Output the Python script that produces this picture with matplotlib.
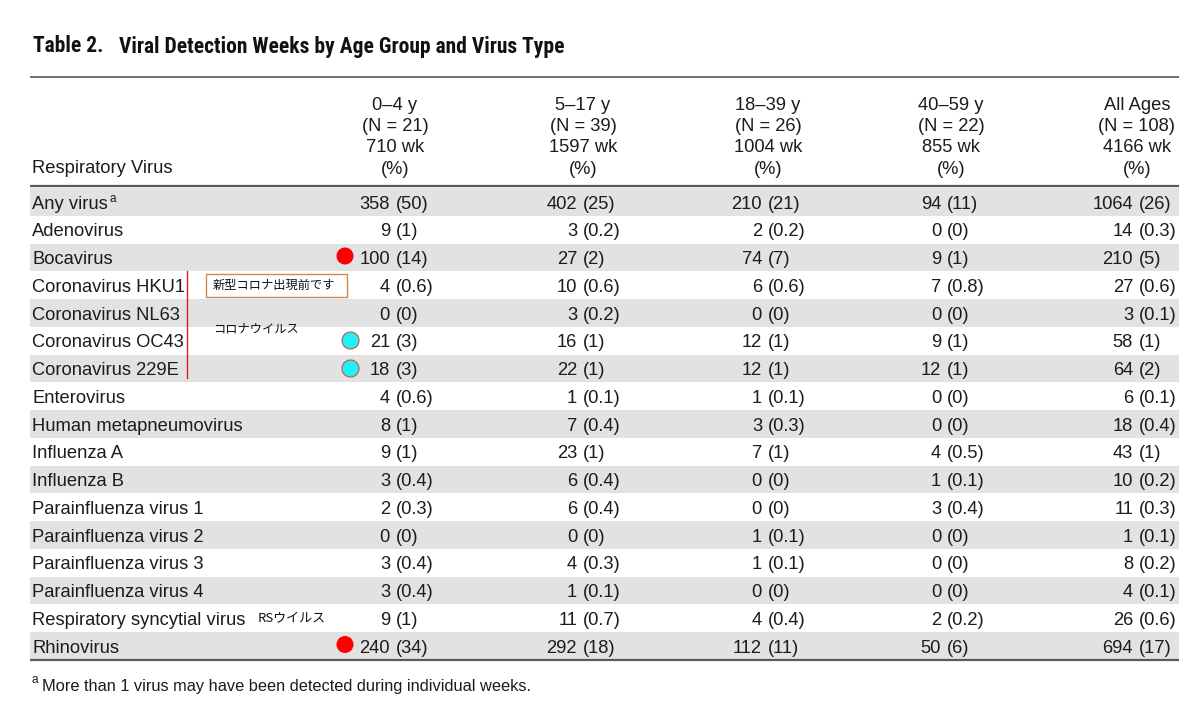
import matplotlib
matplotlib.use("Agg")
import matplotlib.pyplot as plt
from matplotlib import font_manager
from matplotlib.patches import Rectangle

# ---- table data -------------------------------------------------------
viruses = [
    "Any virus", "Adenovirus", "Bocavirus", "Coronavirus HKU1",
    "Coronavirus NL63", "Coronavirus OC43", "Coronavirus 229E",
    "Enterovirus", "Human metapneumovirus", "Influenza A", "Influenza B",
    "Parainfluenza virus 1", "Parainfluenza virus 2", "Parainfluenza virus 3",
    "Parainfluenza virus 4", "Respiratory syncytial virus", "Rhinovirus",
]

age_groups = ["0\u20134 y", "5\u201317 y", "18\u201339 y", "40\u201359 y", "All Ages"]
group_n = [21, 39, 26, 22, 108]
group_weeks = [710, 1597, 1004, 855, 4166]

counts_0_4 = [358, 9, 100, 4, 0, 21, 18, 4, 8, 9, 3, 2, 0, 3, 3, 9, 240]
pct_0_4 = ["50", "1", "14", "0.6", "0", "3", "3", "0.6", "1", "1", "0.4",
           "0.3", "0", "0.4", "0.4", "1", "34"]
counts_5_17 = [402, 3, 27, 10, 3, 16, 22, 1, 7, 23, 6, 6, 0, 4, 1, 11, 292]
pct_5_17 = ["25", "0.2", "2", "0.6", "0.2", "1", "1", "0.1", "0.4", "1", "0.4",
            "0.4", "0", "0.3", "0.1", "0.7", "18"]
counts_18_39 = [210, 2, 74, 6, 0, 12, 12, 1, 3, 7, 0, 0, 1, 1, 0, 4, 112]
pct_18_39 = ["21", "0.2", "7", "0.6", "0", "1", "1", "0.1", "0.3", "1", "0",
             "0", "0.1", "0.1", "0", "0.4", "11"]
counts_40_59 = [94, 0, 9, 7, 0, 9, 12, 0, 0, 4, 1, 3, 0, 0, 0, 2, 50]
pct_40_59 = ["11", "0", "1", "0.8", "0", "1", "1", "0", "0", "0.5", "0.1",
             "0.4", "0", "0", "0", "0.2", "6"]
counts_all = [1064, 14, 210, 27, 3, 58, 64, 6, 18, 43, 10, 11, 1, 8, 4, 26, 694]
pct_all = ["26", "0.3", "5", "0.6", "0.1", "1", "2", "0.1", "0.4", "1", "0.2",
           "0.3", "0.1", "0.2", "0.1", "0.6", "17"]

columns = [
    (counts_0_4, pct_0_4),
    (counts_5_17, pct_5_17),
    (counts_18_39, pct_18_39),
    (counts_40_59, pct_40_59),
    (counts_all, pct_all),
]

TITLE_NUM = "Table 2."
TITLE = "Viral Detection Weeks by Age Group and Virus Type"
FOOTNOTE = "More than 1 virus may have been detected during individual weeks."

# hand-written notes on the picture
red_dot_rows = ["Bocavirus", "Rhinovirus"]
cyan_dot_rows = ["Coronavirus OC43", "Coronavirus 229E"]
box_note = "新型コロナ出現前です"
corona_note = "コロナウイルス"
rsv_note = "RSウイルス"

# ---- layout (pixel space) ---------------------------------------------
W, H = 1200, 706
LEFT, RIGHT = 30, 1179
ROW0_Y = 202
ROW_STEP = 27.75
COL_X = [396, 583, 768, 947, 1139]
HEADER_X = [395, 583, 768, 951, 1137]
HEADER_Y = [109.5, 131, 152.5, 174]

TEXT_COLOR = "#1c1c1c"
BAND_COLOR = "#e2e2e2"
RULE_COLOR = "#5a5a5a"

fonts = font_manager.fontManager.ttflist
names = {f.name for f in fonts}
BODY_FONT = "Liberation Sans" if "Liberation Sans" in names else "DejaVu Sans"

# a narrow bold face for the title if one is around
TITLE_FONT, TITLE_STRETCH, TITLE_SIZE = BODY_FONT, "normal", 13.2
for cand in ["Liberation Sans Narrow", "Roboto Condensed", "Open Sans Condensed"]:
    if cand in names:
        TITLE_FONT, TITLE_SIZE = cand, 15.5
        break
else:
    cond = [f for f in fonts if f.name == "DejaVu Sans" and f.stretch == "condensed"
            and f.weight in ("bold", 700)]
    if cond:
        TITLE_FONT, TITLE_STRETCH, TITLE_SIZE = "DejaVu Sans", "condensed", 13.5

CJK_FONT = ["Noto Sans CJK JP", "DejaVu Sans"]
BODY_SIZE = 13.2

fig = plt.figure(figsize=(W / 100, H / 100), dpi=100)
ax = fig.add_axes([0, 0, 1, 1])
ax.set_xlim(0, W)
ax.set_ylim(H, 0)
ax.axis("off")


def row_y(i):
    return ROW0_Y + i * ROW_STEP


# title
title_kw = dict(fontsize=TITLE_SIZE, fontweight="bold", family=TITLE_FONT,
                fontstretch=TITLE_STRETCH, color="#111111", va="baseline")
ax.text(33, 52.5, TITLE_NUM, **title_kw)
ax.text(119, 52.5, TITLE, **title_kw)

# rules
ax.plot([LEFT, RIGHT], [77, 77], color=RULE_COLOR, lw=1.2, solid_capstyle="butt")

# shaded bands
for i in range(0, len(viruses), 2):
    ax.add_patch(Rectangle((LEFT, row_y(i) - ROW_STEP / 2), RIGHT - LEFT, ROW_STEP,
                           facecolor=BAND_COLOR, edgecolor="none", zorder=0))

ax.plot([LEFT, RIGHT], [186, 186], color=RULE_COLOR, lw=1.6, solid_capstyle="butt")
ax.plot([LEFT, RIGHT], [row_y(len(viruses) - 1) + ROW_STEP / 2] * 2,
        color=RULE_COLOR, lw=1.6, solid_capstyle="butt")

# header
body = dict(fontsize=BODY_SIZE, family=BODY_FONT, color=TEXT_COLOR, va="baseline")
for x, age, n, wk in zip(HEADER_X, age_groups, group_n, group_weeks):
    lines = [age, f"(N = {n})", f"{wk} wk", "(%)"]
    for y, line in zip(HEADER_Y, lines):
        ax.text(x, y, line, ha="center", **body)
ax.text(32, 173, "Respiratory Virus", ha="left", **body)

# body rows
for i, name in enumerate(viruses):
    base = row_y(i) + 6.6
    ax.text(32, base, name, ha="left", **body)
    if i == 0:
        ax.text(109, base - 7, "a", fontsize=8.5, family=BODY_FONT,
                color=TEXT_COLOR, va="baseline")
    for x, (counts, pcts) in zip(COL_X, columns):
        ax.text(x - 6, base, str(counts[i]), ha="right", **body)
        ax.text(x, base, f"({pcts[i]})", ha="left", **body)

# footnote
ax.text(32, 683, "a", fontsize=8.5, family=BODY_FONT, color=TEXT_COLOR, va="baseline")
ax.text(42, 691, FOOTNOTE, fontsize=11.8, family=BODY_FONT, color=TEXT_COLOR,
        va="baseline")

# annotations
for name in red_dot_rows:
    ax.scatter([345], [row_y(viruses.index(name)) - 1.5], s=150, color="#ff0000",
               edgecolors="none", zorder=3)
for name in cyan_dot_rows:
    ax.scatter([350], [row_y(viruses.index(name)) - 1], s=150, color="#22f0f6",
               edgecolors="#c0564a", linewidths=0.8, zorder=3)

hku1_y = row_y(viruses.index("Coronavirus HKU1"))
ax.add_patch(Rectangle((206, hku1_y - 11.5), 141, 23, facecolor="white",
                       edgecolor="#d4874a", lw=1.0, zorder=2))
ax.text(213, hku1_y, box_note, fontsize=8.8, family=CJK_FONT, color="#111111",
        va="center", ha="left", zorder=3)

ax.plot([187, 187], [hku1_y - 14, row_y(viruses.index("Coronavirus 229E")) + 9],
        color="#e02020", lw=1.0)
ax.text(213, 329, corona_note, fontsize=8.8, family=CJK_FONT, color="#111111",
        va="center", ha="left")

rsv_y = row_y(viruses.index("Respiratory syncytial virus"))
ax.text(258, rsv_y - 0.5, rsv_note, fontsize=9.4, family=CJK_FONT, color="#111111",
        va="center", ha="left")

fig.savefig("out.png", dpi=100, facecolor="white")
